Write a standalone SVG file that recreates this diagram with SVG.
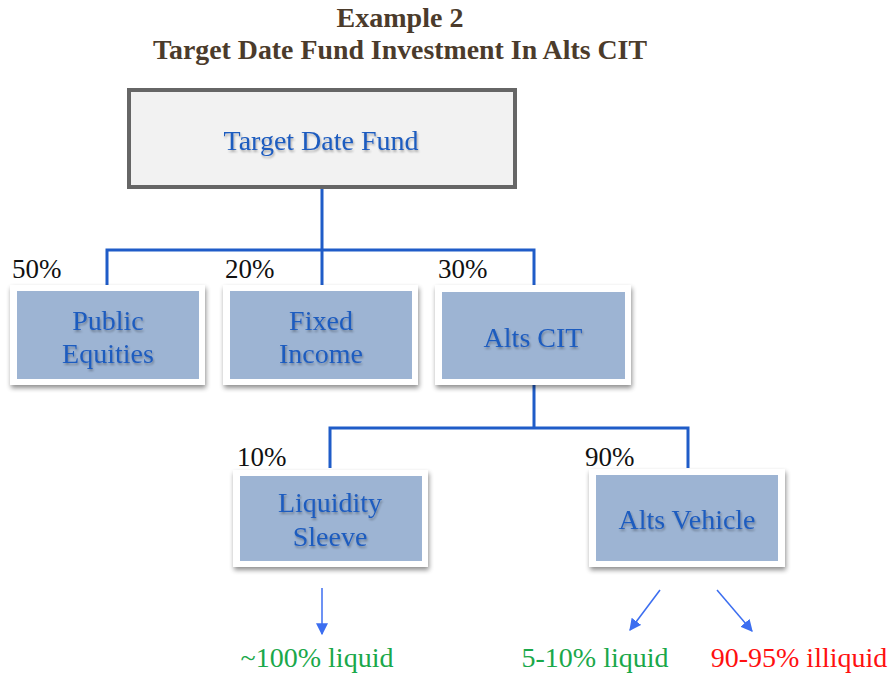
<svg xmlns="http://www.w3.org/2000/svg" width="889" height="675" viewBox="0 0 889 675">
<defs>
<filter id="sh" x="-10%" y="-10%" width="125%" height="130%">
<feGaussianBlur in="SourceAlpha" stdDeviation="2.5"/>
<feOffset dx="1" dy="3" result="b"/>
<feComponentTransfer><feFuncA type="linear" slope="0.45"/></feComponentTransfer>
<feMerge><feMergeNode/><feMergeNode in="SourceGraphic"/></feMerge>
</filter>
<filter id="ts" x="-5%" y="-20%" width="110%" height="150%">
<feGaussianBlur in="SourceAlpha" stdDeviation="1"/>
<feOffset dx="1" dy="1.5"/>
<feComponentTransfer><feFuncA type="linear" slope="0.3"/></feComponentTransfer>
<feMerge><feMergeNode/><feMergeNode in="SourceGraphic"/></feMerge>
</filter>
<marker id="ah" viewBox="0 0 10 10" refX="9" refY="5" markerWidth="8" markerHeight="8" orient="auto">
<path d="M0,0 L10,5 L0,10 z" fill="#3c6ef0"/>
</marker>
</defs>
<style>
text{font-family:"Liberation Serif","Times New Roman",serif;}
.title{font-size:28px;font-weight:bold;fill:#4b3b2b;text-anchor:middle;}
.frame{fill:#ffffff;filter:url(#sh);}
.inner{fill:#9db4d3;}
.lbl{font-size:28px;fill:#1f5cbf;text-anchor:middle;filter:url(#ts);}
.pct{font-size:27px;fill:#111;}
.conn{fill:none;stroke:#1f5cc8;stroke-width:3;}
.arr{stroke:#3c6ef0;stroke-width:1.5;fill:none;marker-end:url(#ah);}
.green{font-size:28px;fill:#1aa84a;text-anchor:middle;}
.red{font-size:28px;fill:#ff1010;text-anchor:middle;}
</style>
<text class="title" x="400" y="27">Example 2</text>
<text class="title" x="400" y="59" textLength="494" lengthAdjust="spacingAndGlyphs">Target Date Fund Investment In Alts CIT</text>

<g id="connectors">
<path class="conn" d="M322,187 V250 M107,290 V250 H534 V290 M322,250 V290"/>
<path class="conn" d="M534,380 V428 M330,468 V428 H688 V468"/>
<path class="arr" d="M322,588 V634"/>
<path class="arr" d="M660,590 L630,630"/>
<path class="arr" d="M717,590 L752,631"/>
</g>

<g id="tdf">
<rect x="129" y="90" width="386" height="97" fill="#f2f2f2" stroke="#666666" stroke-width="4"/>
<text class="lbl" x="321" y="150">Target Date Fund</text>
</g>

<g id="public-equities">
<rect class="frame" x="10" y="285" width="195" height="100"/>
<rect class="inner" x="17" y="291" width="182" height="88"/>
<text class="lbl" x="108" y="330">Public</text>
<text class="lbl" x="108" y="363">Equities</text>
<text class="pct" x="12" y="278">50%</text>
</g>

<g id="fixed-income">
<rect class="frame" x="223" y="285" width="195" height="100"/>
<rect class="inner" x="230" y="291" width="182" height="88"/>
<text class="lbl" x="321" y="330">Fixed</text>
<text class="lbl" x="321" y="363">Income</text>
<text class="pct" x="225" y="278">20%</text>
</g>

<g id="alts-cit">
<rect class="frame" x="435" y="285" width="196" height="100"/>
<rect class="inner" x="442" y="292" width="183" height="87"/>
<text class="lbl" x="533" y="347">Alts CIT</text>
<text class="pct" x="438" y="278">30%</text>
</g>

<g id="liquidity-sleeve">
<rect class="frame" x="233" y="470" width="195" height="97"/>
<rect class="inner" x="240" y="476" width="182" height="85"/>
<text class="lbl" x="330" y="512">Liquidity</text>
<text class="lbl" x="330" y="546">Sleeve</text>
<text class="pct" x="237" y="466">10%</text>
</g>

<g id="alts-vehicle">
<rect class="frame" x="589" y="469" width="196" height="98"/>
<rect class="inner" x="596" y="475" width="182" height="86"/>
<text class="lbl" x="687" y="529">Alts Vehicle</text>
<text class="pct" x="585" y="466">90%</text>
</g>

<g id="outcomes">
<text class="green" x="317" y="667">~100% liquid</text>
<text class="green" x="595" y="667">5-10% liquid</text>
<text class="red" x="799" y="667">90-95% illiquid</text>
</g>
</svg>
